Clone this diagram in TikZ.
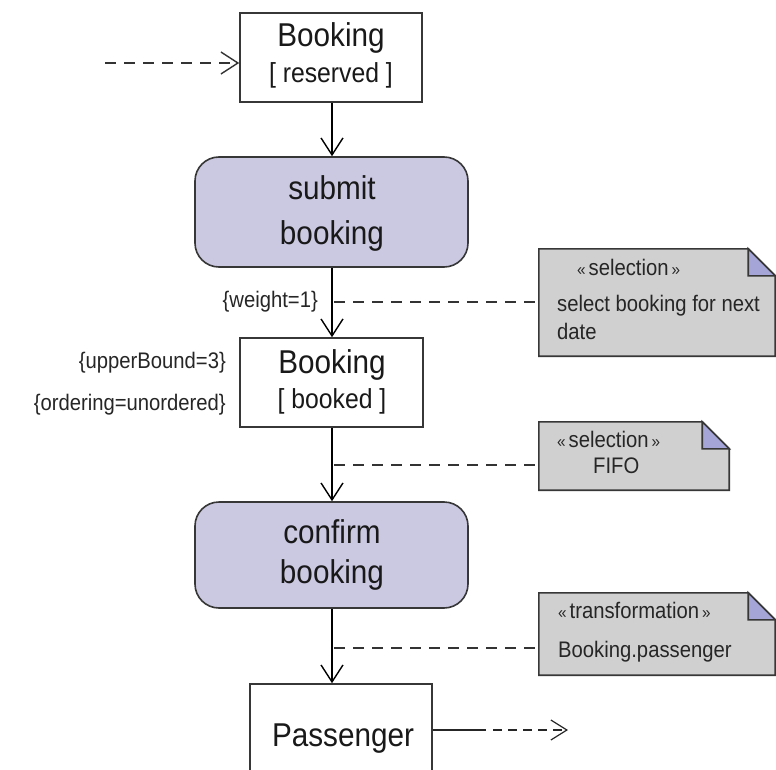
\documentclass[tikz,border=0pt]{standalone}
\usepackage{fontspec}
\setmainfont{Liberation Sans}
\newfontfamily\narrowsans[FakeStretch=0.9]{Liberation Sans}
\usetikzlibrary{arrows.meta,calc}
\definecolor{actfill}{RGB}{203,200,226}
\definecolor{notefill}{RGB}{208,208,208}
\definecolor{foldfill}{RGB}{165,165,215}
\definecolor{edgecol}{RGB}{55,55,55}
\newcommand\drawnote[1]{%
  \filldraw[notebody] (#1.north west) -- ($(#1.north east)+(-27,0)$) -- ($(#1.north east)+(0,27)$) -- (#1.south east) -- (#1.south west) -- cycle;
  \filldraw[notebody,fill=foldfill] ($(#1.north east)+(-27,0)$) -- ($(#1.north east)+(-27,27)$) -- ($(#1.north east)+(0,27)$) -- cycle;}
\newcommand\stereo[1]{{\fontsize{17}{17}\selectfont«}\hspace{3pt}#1\hspace{3pt}{\fontsize{17}{17}\selectfont»}}
\begin{document}
\begin{tikzpicture}[x=1pt,y=-1pt,
  objbox/.style={draw=edgecol,line width=1.6pt,fill=white,inner sep=0pt},
  actbox/.style={draw=edgecol,line width=1.6pt,fill=actfill,rounded corners=24pt,inner sep=0pt},
  notebody/.style={draw=edgecol,line width=1.6pt,fill=notefill},
  noteshape/.style={inner sep=0pt,draw=none},
  bigtxt/.style={font=\narrowsans\fontsize{33}{33}\selectfont,anchor=base,inner sep=0pt,text=black!90},
  midtxt/.style={font=\narrowsans\fontsize{27.5}{27.5}\selectfont,anchor=base,inner sep=0pt,text=black!90},
  smalltxt/.style={font=\narrowsans\fontsize{22.5}{22.5}\selectfont,inner sep=0pt,text=black!85},
  flow/.style={draw=black,line width=1.4pt,-{Straight Barb[length=17pt,width=22pt,line width=1.4pt]}},
  dashline/.style={draw=black!80,line width=1.7pt,dash pattern=on 11pt off 8pt}
]
\clip (0,0) rectangle (776,770);
\fill[white] (0,0) rectangle (776,770);
\coordinate (ax) at (332,0);

% object and action nodes
\node[objbox,minimum width=182pt,minimum height=89pt] (res) at (331,57.5) {};
\node[actbox,minimum width=273pt,minimum height=110pt] (submit) at (331.5,212) {};
\node[objbox,minimum width=183pt,minimum height=89pt] (booked) at (331.5,382.5) {};
\node[actbox,minimum width=273pt,minimum height=106pt] (confirm) at (331.5,555) {};
\node[objbox,minimum width=182pt,minimum height=102pt] (pass) at (341,735) {};

% texts inside
\node[bigtxt] (t1) at (331,47) {Booking};
\node[midtxt] (t2) at (331,83) {[ reserved ]};
\node[bigtxt] (t3) at (332,200) {submit};
\node[bigtxt] (t4) at (332,244) {booking};
\node[bigtxt] (t5) at (332,373) {Booking};
\node[midtxt] (t6) at (332,408) {[ booked ]};
\node[bigtxt] (t7) at (332,543) {confirm};
\node[bigtxt] (t8) at (332,583) {booking};
\node[bigtxt] (t9) at (343,746) {Passenger};

% notes
\node[noteshape,minimum width=236pt,minimum height=107pt] (n1) at (657,302.5) {};
\node[noteshape,minimum width=190pt,minimum height=68pt] (n2) at (634,456) {};
\node[noteshape,minimum width=236pt,minimum height=82pt] (n3) at (657,634) {};
\drawnote{n1}
\drawnote{n2}
\drawnote{n3}
\node[smalltxt,anchor=base west] (n1a) at (577,275) {\stereo{selection}};
\node[smalltxt,anchor=base west] (n1b) at (557,311) {select booking for next};
\node[smalltxt,anchor=base west] (n1c) at (557,339) {date};
\node[smalltxt,anchor=base west] (n2a) at (557,447) {\stereo{selection}};
\node[smalltxt,anchor=base west] (n2b) at (593,473) {FIFO};
\node[smalltxt,anchor=base west] (n3a) at (558,618) {\stereo{transformation}};
\node[smalltxt,anchor=base west] (n3b) at (558,657) {Booking.passenger};

% constraint labels
\node[smalltxt,anchor=base east] (w1) at (318,307) {\{weight=1\}};
\node[smalltxt,anchor=base east] (u1) at (226,368) {\{upperBound=3\}};
\node[smalltxt,anchor=base east] (o1) at (226,410) {\{ordering=unordered\}};

% flows
\coordinate (s0) at (105,63);
\draw[dashline,-{Straight Barb[length=17pt,width=22pt,line width=1.4pt]}] (s0) -- (s0 -| res.west);
\draw[flow] (res.south -| ax) -- (submit.north -| ax);
\draw[flow] (submit.south -| ax) -- (booked.north -| ax);
\draw[flow] (booked.south -| ax) -- (confirm.north -| ax);
\draw[flow] (confirm.south -| ax) -- (pass.north -| ax);

% note anchors
\coordinate (d1) at (334,302);
\coordinate (d2) at (334,465);
\coordinate (d3) at (334,648);
\draw[dashline] (d1) -- (d1 -| n1.west);
\draw[dashline] (d2) -- (d2 -| n2.west);
\draw[dashline] (d3) -- (d3 -| n3.west);

% outgoing flow
\coordinate (pe) at (486,730);
\coordinate (pd) at (493,730);
\coordinate (pt) at (568,730);
\draw[draw=black!85,line width=1.4pt] (pe -| pass.east) -- (pe);
\draw[draw=black!85,line width=1.5pt,dash pattern=on 9pt off 6pt,-{Straight Barb[length=16pt,width=20pt,line width=1.2pt]}] (pd) -- (pt);
\end{tikzpicture}
\end{document}
